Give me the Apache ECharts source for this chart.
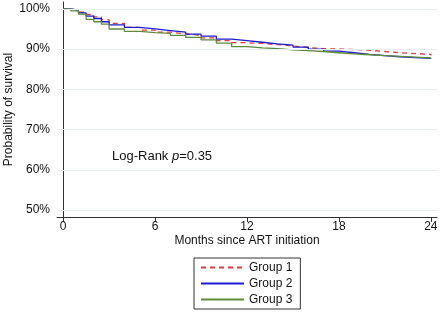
<!DOCTYPE html>
<html>
<head>
<meta charset="utf-8">
<script src="https://cdn.jsdelivr.net/npm/echarts@6/dist/echarts.min.js"></script>
<style>
  html, body { margin: 0; padding: 0; background: #fff; }
  #main { width: 440px; height: 313px; }
</style>
</head>
<body>
<div id="main"></div>
<script>
// months since ART initiation
var months = [0, 0.5, 1, 1.5, 2, 2.5, 3, 4, 5, 6, 7, 8, 9, 10, 11, 12, 13, 14, 15, 16, 17, 18, 19, 20, 21, 22, 23, 24];
// survival (%)
var group1 = [100, 99.7, 99.2, 98.6, 98.0, 97.3, 96.4, 95.4, 94.7, 94.2, 93.8, 93.4, 92.8, 92.1, 91.6, 91.4, 91.1, 90.8, 90.4, 90.1, 90.0, 89.9, 89.7, 89.4, 89.1, 88.9, 88.7, 88.4];
var group2 = [100, 99.6, 99.0, 98.2, 97.6, 96.8, 96.0, 95.4, 95.0, 94.6, 94.2, 93.7, 93.2, 92.5, 92.1, 91.7, 91.3, 91.0, 90.5, 90.0, 89.5, 89.1, 88.7, 88.4, 88.1, 87.9, 87.7, 87.6];
var group3 = [100, 99.5, 98.7, 97.4, 96.8, 96.2, 95.0, 94.4, 94.1, 93.9, 93.4, 92.9, 92.3, 91.5, 90.6, 90.3, 90.1, 89.8, 89.6, 89.4, 89.1, 88.8, 88.6, 88.4, 88.2, 88.0, 87.8, 87.6];
var xTicks = [0, 6, 12, 18, 24];
var yTicks = [50, 60, 70, 80, 90, 100];

function pairs(vals) {
    return months.map(function (m, i) { return [m, vals[i]]; });
}

var chart = echarts.init(document.getElementById('main'));
var font = 'Liberation Sans, Arial, sans-serif';

function lineSeries(name, vals, color, type) {
    return {
        name: name, type: 'line', step: 'end', showSymbol: false, symbol: 'none',
        data: pairs(vals),
        lineStyle: {color: color, width: 1.3, type: type},
        itemStyle: {color: color},
        silent: true
    };
}

var series = [
    lineSeries('Group 1', group1, '#e8393b', [5, 4]),
    lineSeries('Group 2', group2, '#1c1cd0', 'solid'),
    lineSeries('Group 3', group3, '#5f8a3c', 'solid')
];
// horizontal grid lines
series[0].markLine = {
    silent: true, symbol: 'none', label: {show: false},
    lineStyle: {color: '#e6eef0', width: 1, type: 'solid'},
    data: yTicks.map(function (v) { return {yAxis: v}; })
};

chart.setOption({
    animation: false,
    textStyle: {fontFamily: font},
    grid: {left: 57, right: 3, top: 2, bottom: 96, containLabel: false, outerBoundsMode: 'none'},
    xAxis: {
        type: 'value', min: -0.4, max: 24.4,
        name: 'Months since ART initiation', nameLocation: 'middle', nameGap: 18, nameMoveOverlap: false,
        nameTextStyle: {fontSize: 12, color: '#111', fontFamily: font, verticalAlign: 'top'},
        axisLine: {show: true, lineStyle: {color: '#333', width: 1}},
        axisTick: {show: true, length: 5, customValues: xTicks, lineStyle: {color: '#333'}},
        axisLabel: {customValues: xTicks, fontSize: 12, color: '#111', margin: 4, fontFamily: font},
        splitLine: {show: false}
    },
    yAxis: {
        type: 'value', min: 48.3, max: 101.7,
        name: 'Probability of survival', nameLocation: 'middle', nameGap: 42, nameMoveOverlap: false,
        nameTextStyle: {fontSize: 12, color: '#111', fontFamily: font},
        axisLine: {show: true, lineStyle: {color: '#333', width: 1}},
        axisTick: {show: true, length: 5, customValues: yTicks, lineStyle: {color: '#333'}},
        axisLabel: {customValues: yTicks, fontSize: 12, color: '#111', margin: 7, fontFamily: font,
            formatter: function (v) { return v + '%'; }},
        splitLine: {show: false}
    },
    legend: {
        orient: 'vertical', left: 194, top: 258,
        itemWidth: 43, itemHeight: 10, itemGap: 3,
        padding: [3, 8, 3, 6],
        borderColor: '#333', borderWidth: 1, borderRadius: 0,
        itemStyle: {opacity: 0},
        textStyle: {fontSize: 12, lineHeight: 13, color: '#111', fontFamily: font},
        data: ['Group 1', 'Group 2', 'Group 3']
    },
    graphic: [{
        type: 'text', left: 112, top: 150,
        style: {
            text: '{a|Log-Rank }{b|p}{a|=0.35}',
            rich: {
                a: {fontSize: 13, fill: '#111', fontFamily: font},
                b: {fontSize: 13, fill: '#111', fontStyle: 'italic', fontFamily: font}
            }
        }
    }],
    series: series
});
</script>
</body>
</html>
